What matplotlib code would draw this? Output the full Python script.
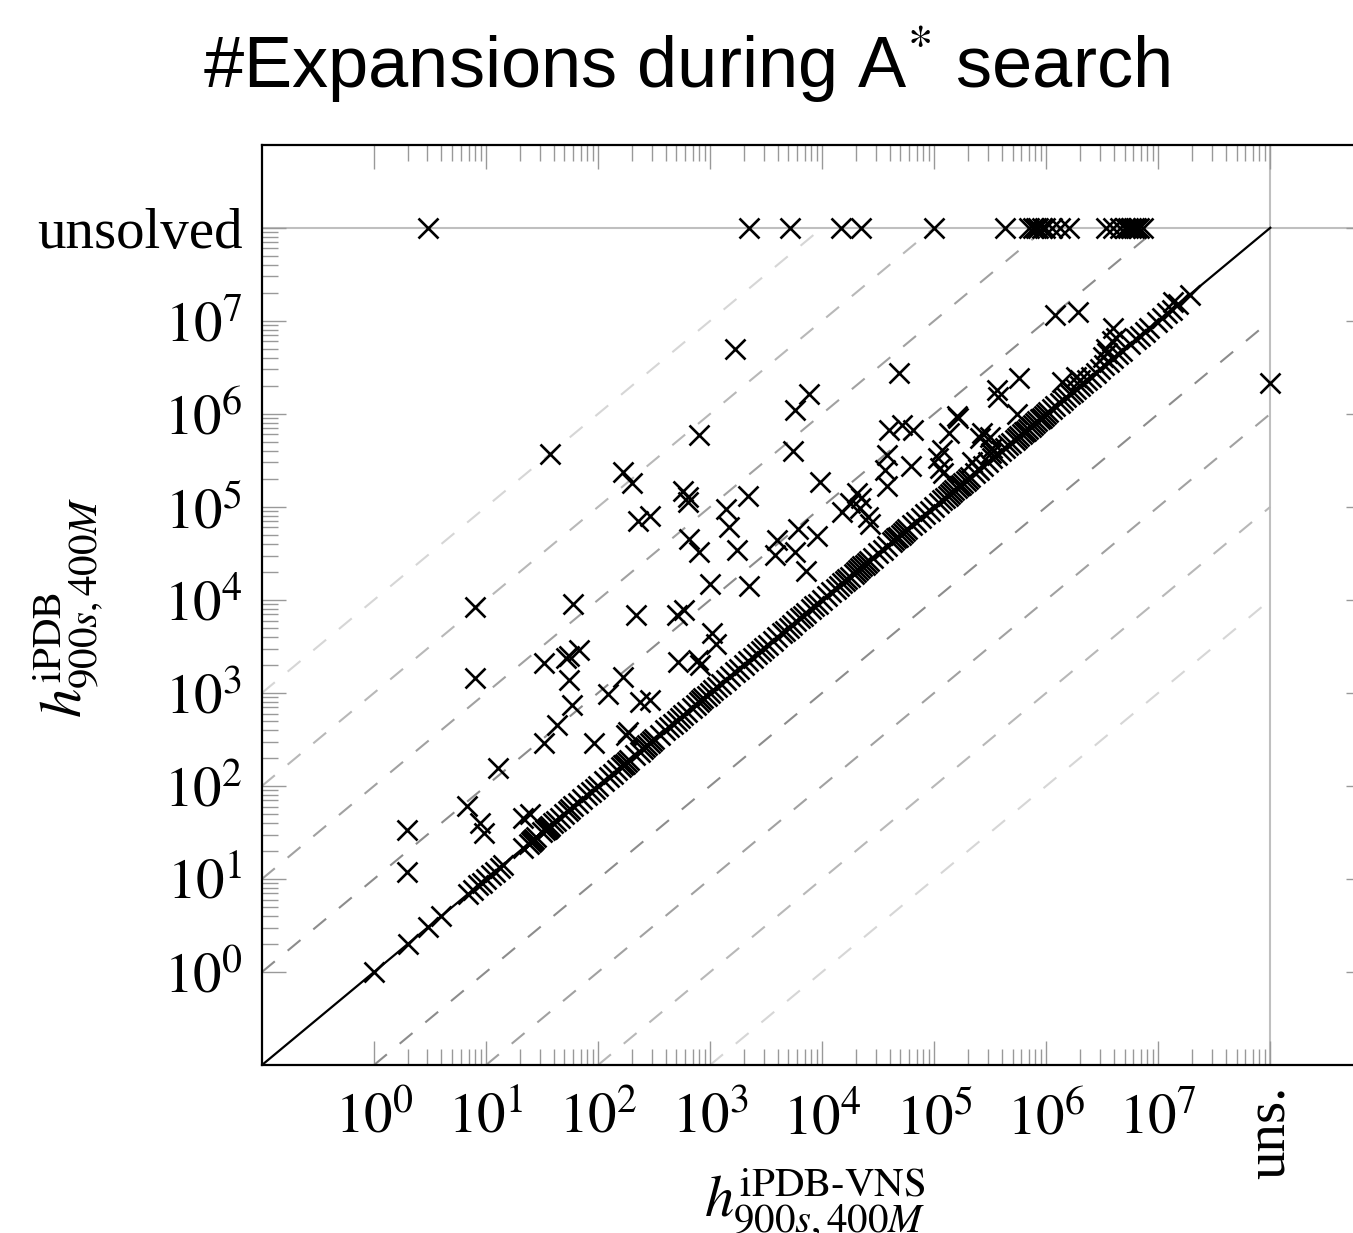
import numpy as np
import matplotlib
matplotlib.use("Agg")
import matplotlib.pyplot as plt
from matplotlib.ticker import FixedLocator, FixedFormatter, NullFormatter

plt.rcParams['mathtext.fontset'] = 'stix'
plt.rcParams['font.family'] = ['Liberation Serif', 'DejaVu Serif']

# ---------------- data (log10 of #expansions) ----------------
# instances solved by both, lying on / very close to the diagonal
diag_x = [0.00, 0.30, 0.48, 0.60, 0.84, 0.88, 0.93, 0.96, 1.00, 1.04, 1.08, 1.12, 1.15,
          1.33, 1.38, 1.40, 1.41, 1.42, 1.43, 1.45, 1.50, 1.53, 1.54, 1.55, 1.56, 1.57, 1.60,
          1.62, 1.66, 1.70, 1.73, 1.75, 1.78, 1.82, 1.86, 1.90, 1.94,
          1.97, 2.00, 2.05, 2.10, 2.13, 2.17, 2.20, 2.22, 2.24, 2.26, 2.28,
          2.33, 2.37, 2.40, 2.42, 2.44, 2.46, 2.48, 2.50, 2.55, 2.60,
          2.63, 2.67, 2.70, 2.73, 2.76, 2.79,
          2.84, 2.87, 2.90, 2.92, 2.94, 2.97, 3.00,
          3.03, 3.06, 3.10, 3.14, 3.18, 3.22, 3.26, 3.30,
          3.34, 3.38, 3.42, 3.45, 3.48, 3.52, 3.56, 3.60,
          3.64, 3.67, 3.70, 3.73, 3.77, 3.80, 3.83, 3.86, 3.90, 3.93, 3.96,
          4.00, 4.04, 4.08, 4.12, 4.15, 4.18, 4.20, 4.22, 4.25, 4.28, 4.30, 4.32, 4.34,
          4.36, 4.38, 4.40, 4.42, 4.45,
          4.50, 4.54, 4.58, 4.62, 4.64, 4.66, 4.68, 4.70, 4.72, 4.74, 4.76, 4.80, 4.84,
          4.88, 4.92, 4.96, 5.00, 5.04, 5.07,
          5.10, 5.12, 5.14, 5.16, 5.18, 5.20, 5.22, 5.24, 5.26, 5.28, 5.30, 5.32,
          5.36, 5.40, 5.44, 5.48, 5.52, 5.56, 5.60, 5.63, 5.66,
          5.69, 5.72, 5.74, 5.76, 5.78, 5.80, 5.82, 5.84, 5.86, 5.88, 5.90, 5.92, 5.94,
          5.96, 5.98, 6.00, 6.02,
          6.05, 6.08, 6.12, 6.15, 6.18, 6.21, 6.24, 6.27, 6.30, 6.33, 6.36, 6.40, 6.44,
          6.48, 6.52, 6.56, 6.60, 6.64, 6.68,
          6.75, 6.80, 6.84, 6.88, 6.92, 6.99, 7.03, 7.08, 7.12, 7.18, 7.28]
diag_y = [0.00, 0.30, 0.48, 0.60, 0.84, 0.88, 0.93, 0.96, 1.00, 1.04, 1.08, 1.12, 1.15,
          1.33, 1.38, 1.40, 1.41, 1.42, 1.43, 1.45, 1.50, 1.53, 1.54, 1.55, 1.56, 1.57, 1.60,
          1.62, 1.66, 1.70, 1.73, 1.75, 1.78, 1.82, 1.86, 1.90, 1.94,
          1.97, 2.00, 2.05, 2.10, 2.13, 2.17, 2.20, 2.22, 2.24, 2.26, 2.28,
          2.33, 2.37, 2.40, 2.42, 2.44, 2.46, 2.48, 2.50, 2.55, 2.60,
          2.63, 2.67, 2.70, 2.73, 2.76, 2.79,
          2.84, 2.87, 2.90, 2.92, 2.94, 2.97, 3.00,
          3.03, 3.06, 3.10, 3.14, 3.18, 3.22, 3.26, 3.30,
          3.34, 3.38, 3.42, 3.45, 3.48, 3.52, 3.56, 3.60,
          3.64, 3.67, 3.70, 3.73, 3.77, 3.80, 3.83, 3.86, 3.90, 3.93, 3.96,
          4.00, 4.04, 4.08, 4.12, 4.15, 4.18, 4.20, 4.22, 4.25, 4.28, 4.30, 4.32, 4.34,
          4.36, 4.38, 4.40, 4.42, 4.45,
          4.50, 4.54, 4.58, 4.62, 4.64, 4.66, 4.68, 4.70, 4.72, 4.74, 4.76, 4.80, 4.84,
          4.88, 4.92, 4.96, 5.00, 5.04, 5.07,
          5.10, 5.12, 5.14, 5.16, 5.18, 5.20, 5.22, 5.24, 5.26, 5.28, 5.30, 5.32,
          5.36, 5.40, 5.44, 5.48, 5.52, 5.56, 5.60, 5.63, 5.66,
          5.69, 5.72, 5.74, 5.76, 5.78, 5.80, 5.82, 5.84, 5.86, 5.88, 5.90, 5.92, 5.94,
          5.96, 5.98, 6.00, 6.02,
          6.05, 6.08, 6.12, 6.15, 6.18, 6.21, 6.24, 6.27, 6.30, 6.33, 6.36, 6.40, 6.44,
          6.48, 6.52, 6.56, 6.60, 6.64, 6.68,
          6.75, 6.80, 6.84, 6.88, 6.92, 6.99, 7.03, 7.08, 7.12, 7.18, 7.28]

# instances clearly above the diagonal
off_x = [0.29, 0.29, 0.83, 0.95, 0.98, 1.11, 1.33, 1.39,
         0.90, 0.90, 1.52, 1.52, 1.57, 1.63, 1.71, 1.74, 1.83, 1.74, 1.77, 1.78, 1.96,
         2.09, 2.22, 2.22, 2.30, 2.34, 2.36, 2.37, 2.46, 2.46, 2.25, 2.27,
         2.70, 2.77, 2.71, 2.89, 2.91, 2.76, 2.80, 2.80, 2.81, 2.90, 2.90,
         3.00, 3.02, 3.05, 3.14, 3.17, 3.22, 3.24, 3.34, 3.35,
         3.58, 3.60, 3.74, 3.76, 3.76, 3.78, 3.86, 3.88, 3.95, 3.98,
         4.18, 4.25, 4.31, 4.34, 4.35, 4.41, 4.43,
         4.56, 4.58, 4.58, 4.60, 4.69, 4.71, 4.79, 4.81,
         5.03, 5.05, 5.07, 5.08, 5.13, 5.20, 5.21, 5.34, 5.39, 5.41, 5.43, 5.50,
         5.52, 5.51, 5.56, 5.57, 5.74, 5.76,
         6.08, 6.28, 6.14, 6.27, 6.30, 6.60, 6.62, 6.59, 6.53, 6.51, 6.54, 7.13]
off_y = [1.53, 1.08, 1.78, 1.60, 1.49, 2.19, 1.66, 1.70,
         3.92, 3.16, 3.32, 2.46, 5.57, 2.66, 3.37, 3.40, 3.46, 3.14, 2.87, 3.96, 2.46,
         2.99, 3.17, 5.38, 5.26, 3.84, 4.85, 2.90, 2.92, 4.90, 2.55, 2.58,
         3.84, 3.89, 3.33, 3.35, 3.30, 5.17, 5.11, 5.05, 4.65, 4.52, 5.77,
         4.17, 3.64, 3.53, 4.98, 4.78, 6.70, 4.54, 5.12, 4.15,
         4.48, 4.64, 5.60, 6.04, 4.52, 4.76, 4.31, 6.21, 4.69, 5.27,
         4.94, 5.04, 5.15, 4.99, 5.09, 4.89, 4.82,
         5.40, 5.56, 5.22, 5.83, 6.44, 5.88, 5.44, 5.83,
         5.52, 5.42, 5.61, 5.36, 5.79, 5.98, 5.96, 5.48, 5.41, 5.74, 5.79, 5.75,
         5.63, 5.58, 6.26, 6.18, 6.00, 6.39,
         7.06, 7.09, 6.34, 6.40, 6.36, 6.92, 6.82, 6.78, 6.70, 6.61, 6.65, 7.20]

# solved only by iPDB-VNS (iPDB unsolved): x values
unsolved_y_x = [0.48, 3.35, 3.71, 4.17, 4.35, 5.00, 5.63,
                5.85, 5.88, 5.91, 5.93, 5.96, 5.99, 6.05, 6.12, 6.20,
                6.53, 6.60, 6.66, 6.70, 6.73, 6.76, 6.78, 6.80, 6.83, 6.86]
# solved only by iPDB (iPDB-VNS unsolved): y values
unsolved_x_y = [6.33]

UNS = 8.0                      # log10 position used for "unsolved"
x_tick_labels = ['$10^{0}$', '$10^{1}$', '$10^{2}$', '$10^{3}$', '$10^{4}$',
                 '$10^{5}$', '$10^{6}$', '$10^{7}$', '']
x_uns_label = 'uns.'
y_tick_labels = ['$10^{0}$', '$10^{1}$', '$10^{2}$', '$10^{3}$', '$10^{4}$',
                 '$10^{5}$', '$10^{6}$', '$10^{7}$', 'unsolved']
title = '#Expansions during A$^{*}$ search'
xlabel = r'$h^{\mathrm{iPDB\text{-}VNS}}_{900s,400M}$'
ylabel = r'$h^{\mathrm{iPDB}}_{900s,400M}$'

# ---------------- figure ----------------
W, H = 1353, 1233
fig = plt.figure(figsize=(W / 100, H / 100), dpi=100)
ax = fig.add_axes([262 / W, (H - 1065) / H, (1370 - 262) / W, (1065 - 145) / H])
ax.set_xscale('log')
ax.set_yscale('log')
lo, hi = 10 ** -1, 10 ** 8.89
ax.set_xlim(lo, hi)
ax.set_ylim(lo, hi)

# reference lines
ax.axhline(10 ** UNS, color='0.75', lw=1.5, zorder=1)
ax.axvline(10 ** UNS, color='0.75', lw=1.5, zorder=1)
ax.plot([lo, 10 ** UNS], [lo, 10 ** UNS], color='black', lw=1.6, zorder=2)
ref_offsets = [1, 2, 3, 4]
ref_colors = ['0.55', '0.63', '0.72', '0.84']
for k, c in zip(ref_offsets, ref_colors):
    # above the diagonal: y = x * 10^k
    ax.plot([lo, 10 ** (UNS - k)], [10 ** (-1 + k), 10 ** UNS], color=c, lw=1.5,
            ls=(0, (8, 8)), zorder=1.5)
    # below the diagonal: y = x / 10^k
    ax.plot([10 ** (-1 + k), 10 ** UNS], [lo, 10 ** (UNS - k)], color=c, lw=1.5,
            ls=(0, (8, 8)), zorder=1.5)

mk = dict(ls='none', marker='x', color='black', ms=14, mew=1.9, zorder=3, clip_on=False)
ax.plot(10 ** np.array(diag_x), 10 ** np.array(diag_y), **mk)
ax.plot(10 ** np.array(off_x), 10 ** np.array(off_y), **mk)
ax.plot(10 ** np.array(unsolved_y_x), np.full(len(unsolved_y_x), 10 ** UNS), **mk)
ax.plot(np.full(len(unsolved_x_y), 10 ** UNS), 10 ** np.array(unsolved_x_y), **mk)

# ticks
major = [10.0 ** e for e in range(0, 9)]
minor = [m * 10.0 ** e for e in range(0, 8) for m in range(2, 10)]
for axis, labels in ((ax.xaxis, x_tick_labels), (ax.yaxis, y_tick_labels)):
    axis.set_major_locator(FixedLocator(major))
    axis.set_minor_locator(FixedLocator(minor))
    axis.set_major_formatter(FixedFormatter(labels))
    axis.set_minor_formatter(NullFormatter())
ax.tick_params(which='both', direction='in', top=True, right=True, color='0.6', width=1.0)
ax.tick_params(which='major', length=17, labelsize=41, pad=14)
ax.tick_params(axis='x', which='major', pad=20)
ax.tick_params(which='minor', length=11.5)
for s in ax.spines.values():
    s.set_linewidth(1.6)
    s.set_color('black')

# rotated "uns." label below the x axis at the unsolved position
ax.annotate(x_uns_label, xy=(10 ** UNS, 0), xycoords=('data', 'axes fraction'),
            xytext=(0, -15), textcoords='offset points', rotation=90,
            ha='center', va='top', fontsize=41, annotation_clip=False)

fig.text(686 / W, 1 - 88 / H, title, ha='center', va='baseline', fontsize=52,
         family=['Liberation Sans', 'DejaVu Sans'])
fig.text(68 / W, 1 - 607 / H, ylabel, rotation=90, ha='center', va='center', fontsize=42)
fig.text(815 / W, 1 - 1217 / H, xlabel, ha='center', va='baseline', fontsize=42)

fig.savefig('out.png', dpi=100)
